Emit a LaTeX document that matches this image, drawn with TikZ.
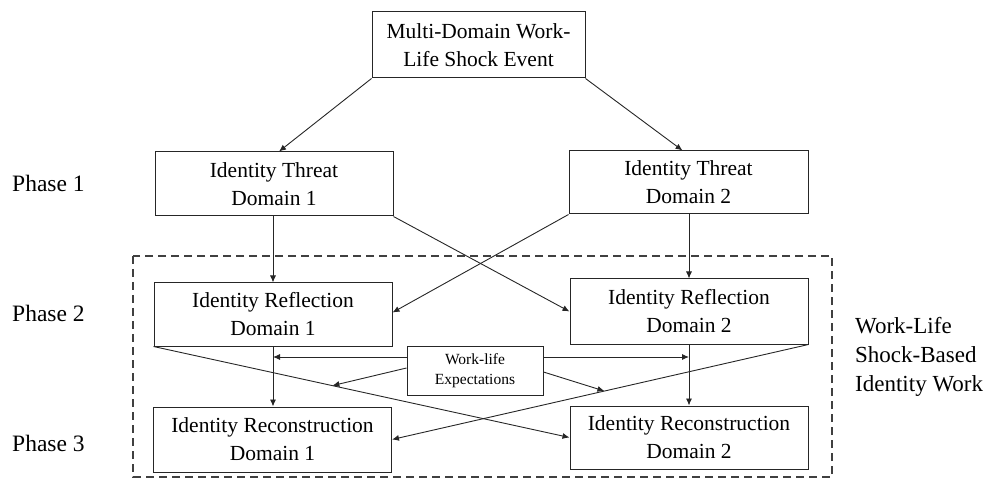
\documentclass[tikz,border=0pt]{standalone}
\usepackage{fontspec}
\setmainfont{Liberation Serif}
\usetikzlibrary{arrows.meta,calc}
\begin{document}
\begin{tikzpicture}[x=1pt,y=-1pt,
  box/.style={draw=black!85,line width=1pt,minimum width=238pt,minimum height=64pt,inner sep=0pt,align=center,font=\fontsize{21.5}{28}\selectfont},
  wlbox/.style={draw=black!85,line width=1pt,minimum width=136pt,minimum height=49pt,inner sep=0pt,align=center,font=\fontsize{15.5}{20}\selectfont},
  phase/.style={anchor=west,inner sep=0pt,font=\fontsize{23.5}{28}\selectfont},
  arr/.style={draw=black!85,line width=0.9pt,-{Latex[length=7pt,width=6pt]}},
  ln/.style={draw=black!85,line width=0.9pt}]
\useasboundingbox (0,0) rectangle (996,478);
% dashed region
\draw[black!75,line width=1.1pt,dash pattern=on 8pt off 5pt] (133,256) rectangle (832,477);
% nodes
\node[box,minimum width=213pt,minimum height=66pt] (top) at (478.5,45) {Multi-Domain Work-\\Life Shock Event};
\node[box] (t1) at (274,184) {Identity Threat\\Domain 1};
\node[box,minimum width=239pt,minimum height=63pt] (t2) at (688.5,182.5) {Identity Threat\\Domain 2};
\node[box,minimum height=63pt] (r1) at (273,314.5) {Identity Reflection\\Domain 1};
\node[box,minimum height=65pt] (r2) at (689,311.5) {Identity Reflection\\Domain 2};
\node[wlbox] (wl) at (475,370.5) {Work-life\\Expectations};
\node[box,minimum height=65pt] (c1) at (272.5,439.5) {Identity Reconstruction\\Domain 1};
\node[box,minimum height=63pt] (c2) at (689,437.5) {Identity Reconstruction\\Domain 2};
% labels
\node[phase] (p1) at (12,183) {Phase 1};
\node[phase] (p2) at (12,313) {Phase 2};
\node[phase] (p3) at (12,443) {Phase 3};
\node[anchor=west,inner sep=0pt,align=left,font=\fontsize{23}{29}\selectfont] (lab) at (855,357) {Work-Life\\Shock-Based\\Identity Work};
% connectors
\draw[arr] (top.south west) -- ([xshift=5pt]t1.north);
\draw[arr] (top.south east) -- ([xshift=-6pt]t2.north);
\draw[arr] (t1.south -| r1.north) -- (r1.north);
\draw[arr] (t2.south -| r2.north) -- (r2.north);
\draw[arr] (t1.south east) -- (r2.west);
\draw[arr] (t2.south west) -- ([yshift=2pt]r1.east);
\draw[arr] (r1.south) -- (r1.south |- c1.north);
\draw[arr] (r2.south) -- (c2.north);
\draw[arr] (r1.south west) -- (c2.west);
\draw[arr] (r2.south east) -- (c1.east);
\coordinate (hl) at ([yshift=13.5pt]wl.west);
\coordinate (hr) at ([yshift=13.5pt]wl.east);
\draw[arr] (hl) -- (hl -| r1.south);
\draw[arr] (hr) -- (hr -| r2.south);
\coordinate (dl) at ($(r1.south west)!0.43!(c2.west)$);
\coordinate (dr) at ($(r2.south east)!0.49!(c1.east)$);
\draw[arr] ([yshift=2.5pt]wl.west) -- (dl);
\draw[arr] ([yshift=-1.5pt]wl.east) -- (dr);
\end{tikzpicture}
\end{document}
